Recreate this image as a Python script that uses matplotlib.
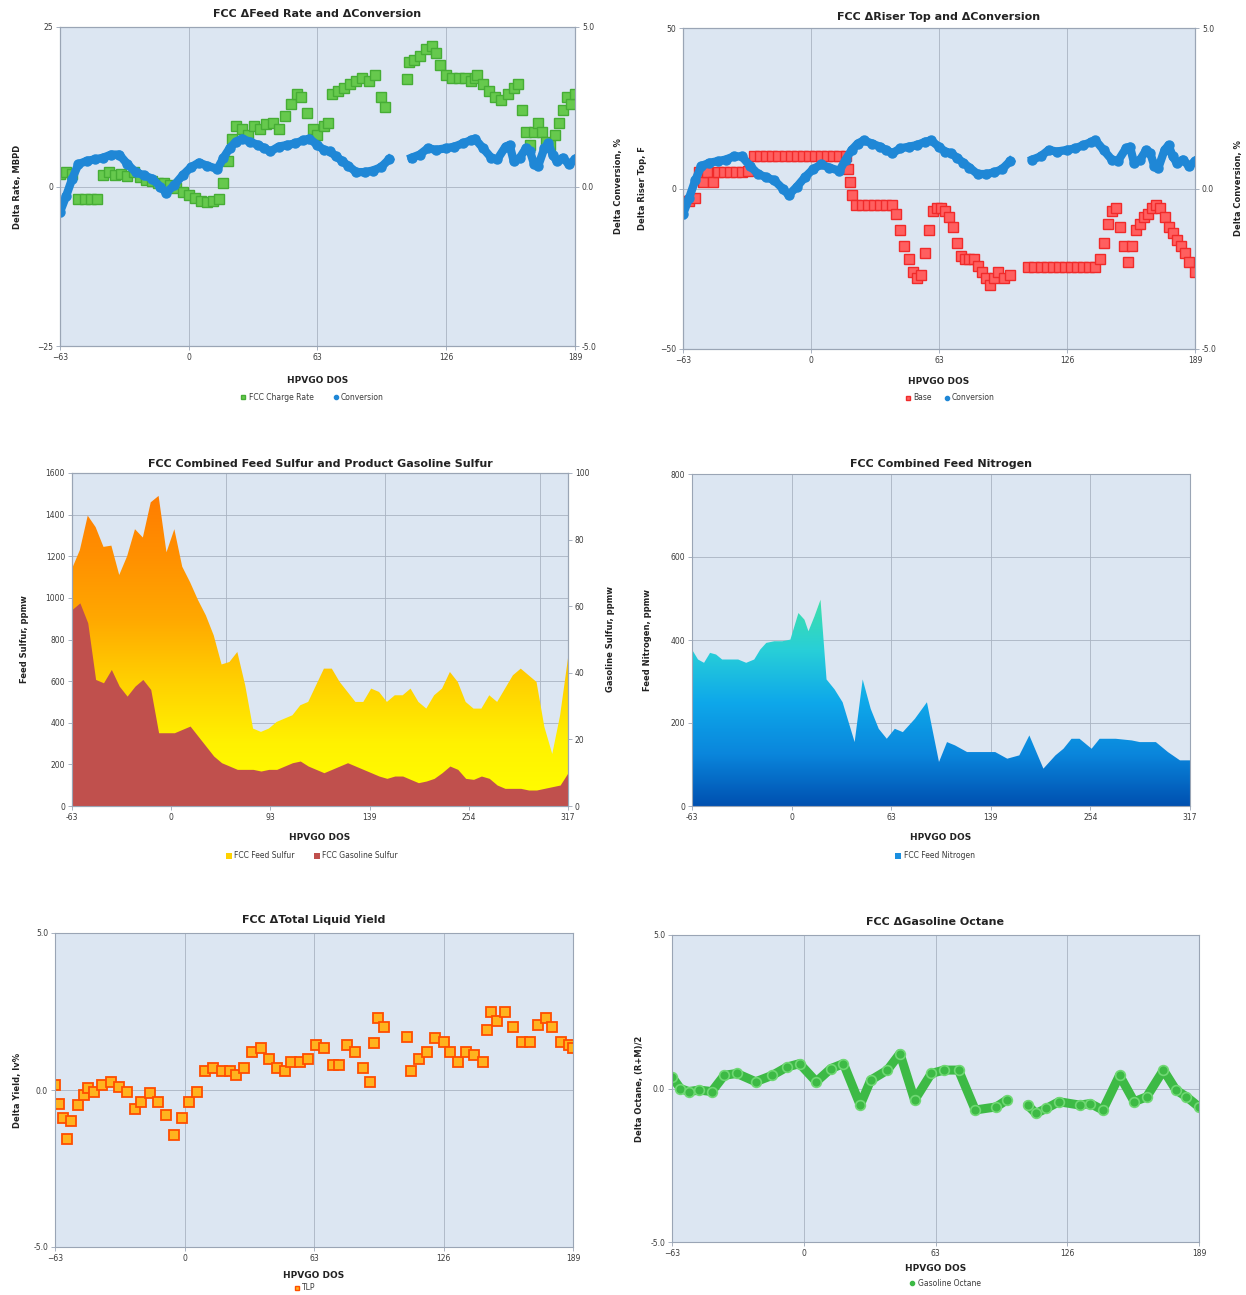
import numpy as np
import matplotlib
matplotlib.use("Agg")
import matplotlib.pyplot as plt
from matplotlib.colors import LinearSegmentedColormap
from matplotlib.patches import Polygon, Patch
from matplotlib.lines import Line2D
from matplotlib.ticker import FormatStrFormatter

nan = np.nan
W, H = 1246, 1295

# ---- FCC conversion (shared by the two top charts), right axis %
conv_x = [-63, -60, -57, -54, -50, -46, -42, -38, -34, -30, -26, -22, -18, -14, -11, -7, -3, 1, 5, 9,
          14, 17, 20, 23, 26, 30, 34, 37, 40, 44, 48, 52, 56, 59, 63, 66, 69, 72, 75, 78,
          82, 86, 90, 94, 98, 103, 109, 113, 117, 121, 126, 130, 134, 138, 140, 144, 148, 151, 155, 157,
          159, 162, 165, 167, 169, 171, 174, 176, 178, 180, 183, 186, 189]
conv_y = [-0.8, -0.3, 0.25, 0.7, 0.8, 0.85, 0.9, 1.0, 1.0, 0.7, 0.45, 0.35, 0.25, 0.0, -0.2, 0.05, 0.35, 0.6, 0.75, 0.65,
          0.55, 0.9, 1.2, 1.4, 1.5, 1.4, 1.3, 1.2, 1.1, 1.25, 1.3, 1.35, 1.45, 1.5, 1.3, 1.15, 1.1, 0.95, 0.8, 0.65,
          0.45, 0.45, 0.5, 0.6, 0.85, nan, 0.9, 1.0, 1.2, 1.15, 1.2, 1.25, 1.35, 1.45, 1.5, 1.2, 0.9, 0.85, 1.25, 1.3,
          0.8, 0.9, 1.2, 1.1, 0.7, 0.65, 1.2, 1.35, 1.0, 0.8, 0.9, 0.7, 0.85]

# ---- FCC charge rate, MBPD
rate_x = [-63, -60, -57, -54, -51, -48, -45, -42, -39, -36, -33, -30, -27, -24, -21, -18, -15, -12, -9, -6,
          -3, 0, 3, 6, 9, 12, 15, 17, 19, 21, 23, 26, 29, 32, 35, 38, 41, 44, 47, 50,
          53, 55, 58, 61, 63, 66, 68, 70, 73, 76, 79, 82, 85, 88, 91, 94, 96, 107, 108, 110,
          113, 116, 119, 121, 123, 126, 129, 132, 135, 138, 140, 141, 144, 147, 150, 153, 156, 159, 161, 163,
          165, 167, 169, 171, 173, 175, 177, 179, 181, 183, 185, 187, 189]
rate_y = [2.0, 2.2, 2.0, -2.0, -2.0, -2.0, -2.0, 1.8, 2.2, 1.8, 2.0, 1.6, 2.2, 1.5, 1.0, 0.8, 0.5, 0.6, 0.2, -0.3,
          -0.8, -1.3, -1.8, -2.2, -2.4, -2.3, -2.0, 0.5, 4.0, 7.5, 9.5, 9.0, 8.0, 9.5, 9.0, 9.8, 10.0, 9.0, 11.0, 13.0,
          14.5, 14.0, 11.5, 9.0, 8.0, 9.5, 10.0, 14.5, 15.0, 15.5, 16.0, 16.5, 17.0, 16.5, 17.5, 14.0, 12.5, 16.8, 19.5, 19.8,
          20.5, 21.5, 22.0, 21.0, 19.0, 17.5, 17.0, 17.0, 17.0, 16.5, 17.0, 17.5, 16.0, 15.0, 14.0, 13.5, 14.5, 15.5, 16.0, 12.0,
          8.5, 6.5, 8.5, 10.0, 8.5, 7.0, 6.5, 8.0, 10.0, 12.0, 14.0, 13.0, 14.5]

# ---- riser top temperature (Base), F
base_x = [-63, -60, -57, -55, -53, -51, -48, -46, -43, -40, -37, -34, -31, -28, -25, -22, -19, -16, -13, -10,
          -7, -4, -1, 2, 5, 8, 11, 14, 17, 18, 19, 20, 22, 25, 28, 31, 34, 37, 40, 42,
          44, 46, 48, 50, 52, 54, 56, 58, 60, 62, 64, 66, 68, 70, 72, 74, 76, 78, 80, 82,
          84, 86, 88, 90, 92, 95, 98, 107, 110, 113, 116, 119, 122, 125, 128, 131, 134, 137, 140, 142,
          144, 146, 148, 150, 152, 154, 156, 158, 160, 162, 164, 166, 168, 170, 172, 174, 176, 178, 180, 182,
          184, 186, 189]
base_y = [-4, -4, -3, 5, 2, 5, 2, 5, 5, 5, 5, 5, 5.5, 10, 10, 10, 10, 10, 10, 10,
          10, 10, 10, 10, 10, 10, 10, 10, 10, 6, 2, -2, -5, -5, -5, -5, -5, -5, -5, -8,
          -13, -18, -22, -26, -28, -27, -20, -13, -7, -6, -6, -7, -9, -12, -17, -21, -22, -22, -22, -24,
          -26, -28, -30, -28, -26, -28, -27, -24.5, -24.5, -24.5, -24.5, -24.5, -24.5, -24.5, -24.5, -24.5, -24.5, -24.5, -24.5, -22,
          -17, -11, -7, -6, -12, -18, -23, -18, -13, -11, -9, -8, -6, -5, -6, -9, -12, -14, -16, -18,
          -20, -23, -26]

# ---- combined feed / gasoline sulfur (category axis)
sulfur_idx = list(range(0, 127, 2))
feed_sulfur = [1140, 1230, 1395, 1340, 1245, 1251, 1110, 1200, 1330, 1290,
               1459, 1490, 1219, 1330, 1150, 1075, 990, 916, 820, 680,
               692, 740, 580, 372, 356, 372, 404, 420, 436, 484,
               500, 580, 660, 660, 596, 548, 500, 500, 564, 548,
               500, 532, 532, 564, 500, 468, 532, 564, 644, 596,
               500, 468, 468, 532, 500, 564, 628, 660, 628, 596,
               380, 250, 436, 710]
gas_sulfur = [59, 61, 55, 38, 37, 41, 36, 33, 36, 38,
              35, 22, 22, 22, 23, 24, 21, 18, 15, 13,
              12, 11, 11, 11, 10.5, 11, 11, 12, 13, 13.5,
              12, 11, 10, 11, 12, 13, 12, 11, 10, 9,
              8.3, 9, 9, 8, 7, 7.5, 8.3, 10, 12, 11,
              8.3, 8, 9, 8.3, 6.3, 5.3, 5.3, 5.3, 4.8, 4.8,
              5.3, 5.8, 6.3, 10]
sulfur_ticks = ["-63", "0", "93", "139", "254", "317"]

# ---- combined feed nitrogen (category axis)
nit_idx = [0, 1.5, 3, 4.5, 6, 7.5, 11.5, 13.5, 15.5, 17, 18.5, 20.5, 22.5, 24.5, 25.5, 26.5, 28, 29, 30.5, 32,
           33.5, 35.5, 37.5, 40.5, 42.5, 44.5, 46.5, 48.5, 50.5, 52.5, 55.5, 58.5, 61.5, 63.5, 65.5, 68.5, 71.5, 75.5, 78.5, 81.5,
           84, 87.5, 90.5, 92.5, 94.5, 96.5, 99.5, 101.5, 105.5, 109.5, 111.5, 115.5, 118.5, 121.5, 124]
nitrogen = [377, 353, 345, 369, 365, 353, 353, 345, 353, 377, 393, 397, 397, 401, 433, 465, 449, 421, 457, 497,
            305, 281, 250, 154, 305, 234, 186, 162, 186, 178, 210, 250, 106, 154, 146, 130, 130, 130, 114, 122,
            170, 90, 122, 138, 162, 162, 138, 162, 162, 158, 154, 154, 130, 110, 110]
nit_ticks = ["-63", "0", "63", "139", "254", "317"]

# ---- total liquid yield, lv%
tly_x = [-63, -61, -59, -57, -55, -52, -49, -47, -44, -40, -36, -32, -28, -24, -21, -17, -13, -9, -5, -1,
         2, 6, 10, 14, 18, 22, 25, 29, 33, 37, 41, 45, 49, 52, 56, 60, 64, 68, 72, 75,
         79, 83, 87, 90, 92, 94, 97, 108, 110, 114, 118, 122, 126, 129, 133, 137, 141, 145, 147, 149,
         152, 156, 160, 164, 168, 172, 176, 179, 183, 187, 189]
tly_y = [0.16, -0.43, -0.9, -1.55, -1.0, -0.48, -0.16, 0.05, -0.05, 0.16, 0.27, 0.1, -0.05, -0.6, -0.37, -0.1, -0.37, -0.8, -1.44, -0.9,
         -0.37, -0.05, 0.6, 0.7, 0.6, 0.6, 0.48, 0.7, 1.22, 1.33, 1.0, 0.7, 0.6, 0.9, 0.9, 1.0, 1.44, 1.33, 0.8, 0.8,
         1.44, 1.22, 0.7, 0.27, 1.5, 2.3, 2.0, 1.7, 0.6, 1.0, 1.22, 1.65, 1.54, 1.22, 0.9, 1.22, 1.1, 0.9, 1.9, 2.5,
         2.2, 2.5, 2.0, 1.54, 1.54, 2.07, 2.3, 2.0, 1.54, 1.44, 1.33]

# ---- gasoline octane, (R+M)/2
oct_x = [-63, -59, -55, -50, -44, -38, -32, -23, -15, -8, -2, 6, 13, 19, 27, 32, 40, 46, 53, 61,
         67, 74, 82, 92, 97, 102, 107, 111, 116, 122, 132, 137, 143, 151, 158, 164, 172, 178, 183, 189]
oct_y = [0.38, 0.0, -0.1, -0.05, -0.1, 0.43, 0.49, 0.22, 0.43, 0.7, 0.81, 0.22, 0.65, 0.81, -0.54, 0.27, 0.6, 1.14, -0.38, 0.49,
         0.6, 0.6, -0.7, -0.6, -0.38, nan, -0.54, -0.81, -0.65, -0.43, -0.54, -0.49, -0.7, 0.43, -0.43, -0.27, 0.6, -0.05, -0.27, -0.6]

dos_ticks = [-63, 0, 63, 126, 189]

BG = "#dce6f2"
GRID = "#a9b3c2"
SPINE = "#9aa5b5"
TXT = "#3a3a3a"
BLUE = "#1f87d6"

fig = plt.figure(figsize=(W / 100, H / 100), dpi=100)


def panel(box):
    l, t, r, b = box
    ax = fig.add_axes([l / W, 1 - b / H, (r - l) / W, (b - t) / H])
    ax.set_facecolor(BG)
    ax.set_axisbelow(True)
    for s in ax.spines.values():
        s.set_color(SPINE)
        s.set_linewidth(0.8)
    ax.tick_params(labelsize=5.5, labelcolor=TXT, length=3, width=0.6, pad=2, color=SPINE)
    return ax


def right_axis(ax, lo, hi, ticks):
    axr = ax.twinx()
    axr.set_ylim(lo, hi)
    axr.set_yticks(ticks)
    axr.tick_params(labelsize=5.5, labelcolor=TXT, length=3, width=0.6, pad=2, color=SPINE)
    for s in axr.spines.values():
        s.set_color(SPINE)
        s.set_linewidth(0.8)
    return axr


def texts(ax, box, title, pad, xlab_y, ylab, ylab_x, axr=None, rlab=None, rlab_x=None):
    l, t, r, b = box
    ax.set_title(title, fontsize=8, fontweight="bold", color="#222222", pad=pad)
    ax.set_xlabel("HPVGO DOS", fontsize=6.5, fontweight="bold", color="#222222")
    ax.xaxis.set_label_coords(0.5, (b - (xlab_y - 4)) / (b - t))
    ax.set_ylabel(ylab, fontsize=6, fontweight="bold", color="#222222")
    ax.yaxis.set_label_coords((ylab_x + 4 - l) / (r - l), 0.5)
    if axr is not None:
        axr.set_ylabel(rlab, fontsize=6, fontweight="bold", color="#222222", rotation=90)
        axr.yaxis.set_label_coords((rlab_x - 4 - l) / (r - l), 0.5)


def legend(handles, names, cx, cy, spacing=2.5):
    fig.legend(handles, names, loc="center", bbox_to_anchor=(cx / W, 1 - cy / H), ncol=len(names),
               frameon=False, fontsize=5.5, labelcolor=TXT, handlelength=0.8, handleheight=0.7,
               handletextpad=0.3, columnspacing=spacing, borderpad=0)


# ================= 1: feed rate and conversion
b1 = (60, 27, 575, 346)
ax1 = panel(b1)
ax1.set_xlim(-63, 189)
ax1.set_xticks(dos_ticks)
ax1.set_ylim(-25, 25)
ax1.set_yticks([-25, 0, 25])
ax1.grid(True, color=GRID, lw=0.6)
ax1.plot(rate_x, rate_y, ls="none", marker="s", ms=6.8, mfc="#66c94d", mec="#46ad35", mew=1)
ax1r = right_axis(ax1, -5, 5, [-5, 0, 5])
ax1r.yaxis.set_major_formatter(FormatStrFormatter("%.1f"))
ax1r.plot(conv_x, conv_y, color=BLUE, lw=6, marker="o", ms=6.5, mfc=BLUE, mec=BLUE)
texts(ax1, b1, "FCC \u0394Feed Rate and \u0394Conversion", 7, 380, "Delta Rate, MBPD", 18,
      ax1r, "Delta Conversion, %", 618)
legend([Line2D([], [], ls="none", marker="s", ms=3, mfc="#66c94d", mec="#46ad35"),
        Line2D([], [], ls="none", marker="o", ms=3, color=BLUE)],
       ["FCC Charge Rate", "Conversion"], 312, 397)

# ================= 2: riser top and conversion
b2 = (683, 28, 1195, 349)
ax2 = panel(b2)
ax2.set_xlim(-63, 189)
ax2.set_xticks(dos_ticks)
ax2.set_ylim(-50, 50)
ax2.set_yticks([-50, 0, 50])
ax2.grid(True, color=GRID, lw=0.6)
ax2.plot(base_x, base_y, ls="none", marker="s", ms=6.8, mfc="#ff5f5f", mec="#f02a2a", mew=1)
ax2r = right_axis(ax2, -5, 5, [-5, 0, 5])
ax2r.yaxis.set_major_formatter(FormatStrFormatter("%.1f"))
ax2r.plot(conv_x, conv_y, color=BLUE, lw=6, marker="o", ms=6.5, mfc=BLUE, mec=BLUE)
texts(ax2, b2, "FCC \u0394Riser Top and \u0394Conversion", 6, 381, "Delta Riser Top, F", 643,
      ax2r, "Delta Conversion, %", 1238)
legend([Line2D([], [], ls="none", marker="s", ms=3, mfc="#ff5f5f", mec="#f02a2a"),
        Line2D([], [], ls="none", marker="o", ms=3, color=BLUE)],
       ["Base", "Conversion"], 950, 398, spacing=1.5)

# ================= 3: feed sulfur and gasoline sulfur
b3 = (72, 473, 568, 806)
ax3 = panel(b3)
n3 = sulfur_idx[-1]
verts = [(sulfur_idx[0], 0)] + list(zip(sulfur_idx, feed_sulfur)) + [(n3, 0)]
clip3 = Polygon(verts, closed=True, fc="none", ec="none")
ax3.add_patch(clip3)
cmap_s = LinearSegmentedColormap.from_list(
    "s", ["#ffff00", "#fff200", "#ffd000", "#ffa800", "#ff9000", "#ff7c00"])
im3 = ax3.imshow(np.linspace(0, 1, 256).reshape(-1, 1), extent=[0, n3, 0, 1500], origin="lower",
                 aspect="auto", cmap=cmap_s, zorder=2)
im3.set_clip_path(clip3)
ax3.set_xlim(0, n3)
ax3.set_ylim(0, 1600)
ax3.set_yticks(range(0, 1601, 200))
ax3.set_xticks([0, 25.2, 50.4, 75.6, 100.8, 126])
ax3.set_xticklabels(sulfur_ticks)
ax3.set_xticks([39, 79.5, 119], minor=True)
ax3.tick_params(axis="x", which="minor", length=0)
ax3.grid(True, axis="y", color=GRID, lw=0.6)
ax3.grid(True, axis="x", which="minor", color=GRID, lw=0.6)
ax3r = right_axis(ax3, 0, 100, range(0, 101, 20))
ax3r.fill_between(sulfur_idx, 0, gas_sulfur, color="#c0504d", lw=0)
texts(ax3, b3, "FCC Combined Feed Sulfur and Product Gasoline Sulfur", 4, 837, "Feed Sulfur, ppmw", 25,
      ax3r, "Gasoline Sulfur, ppmw", 610)
legend([Patch(fc="#ffd200"), Patch(fc="#c0504d")], ["FCC Feed Sulfur", "FCC Gasoline Sulfur"], 312, 856)

# ================= 4: feed nitrogen
b4 = (692, 474, 1190, 806)
ax4 = panel(b4)
n4 = nit_idx[-1]
verts = [(nit_idx[0], 0)] + list(zip(nit_idx, nitrogen)) + [(n4, 0)]
clip4 = Polygon(verts, closed=True, fc="none", ec="none")
ax4.add_patch(clip4)
cmap_n = LinearSegmentedColormap.from_list("n", ["#0050b0", "#0a86dc", "#0ea8ea", "#28cfd8", "#3ee0a8"])
im4 = ax4.imshow(np.linspace(0, 1, 256).reshape(-1, 1), extent=[0, n4, 0, 500], origin="lower",
                 aspect="auto", cmap=cmap_n, zorder=2)
im4.set_clip_path(clip4)
ax4.set_xlim(0, n4)
ax4.set_ylim(0, 800)
ax4.set_yticks(range(0, 801, 200))
ax4.set_xticks([0, 24.8, 49.6, 74.4, 99.2, 124])
ax4.set_xticklabels(nit_ticks)
ax4.grid(True, color=GRID, lw=0.6)
texts(ax4, b4, "FCC Combined Feed Nitrogen", 5, 837, "Feed Nitrogen, ppmw", 648)
legend([Patch(fc="#1a8fe0")], ["FCC Feed Nitrogen"], 935, 856)

# ================= 5: total liquid yield
b5 = (55, 933, 573, 1247)
ax5 = panel(b5)
ax5.set_xlim(-63, 189)
ax5.set_xticks(dos_ticks)
ax5.set_ylim(-5, 5)
ax5.set_yticks([-5, 0, 5])
ax5.yaxis.set_major_formatter(FormatStrFormatter("%.1f"))
ax5.grid(True, color=GRID, lw=0.6)
ax5.plot(tly_x, tly_y, ls="none", marker="s", ms=7, mfc="#ffb31e", mec="#ff4e00", mew=1.3)
texts(ax5, b5, "FCC \u0394Total Liquid Yield", 7, 1275, "Delta Yield, lv%", 18)
legend([Line2D([], [], ls="none", marker="s", ms=3, mfc="#ffb31e", mec="#ff4e00")], ["TLP"], 305, 1288)

# ================= 6: gasoline octane
b6 = (672, 935, 1199, 1242)
ax6 = panel(b6)
ax6.set_xlim(-63, 189)
ax6.set_xticks(dos_ticks)
ax6.set_ylim(-5, 5)
ax6.set_yticks([-5, 0, 5])
ax6.yaxis.set_major_formatter(FormatStrFormatter("%.1f"))
ax6.grid(True, color=GRID, lw=0.6)
ax6.plot(oct_x, oct_y, color="#3dba45", lw=6.5, marker="o", ms=7, mfc="#3dba45", mec="#6fd873", mew=1.2,
         solid_capstyle="round", solid_joinstyle="round")
texts(ax6, b6, "FCC \u0394Gasoline Octane", 7, 1268, "Delta Octane, (R+M)/2", 640)
legend([Line2D([], [], ls="none", marker="o", ms=3, color="#3dba45")], ["Gasoline Octane"], 945, 1283)

fig.savefig("out.png", dpi=100, facecolor="white")
